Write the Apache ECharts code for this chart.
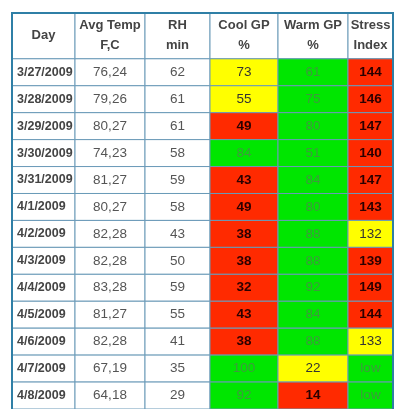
<!DOCTYPE html>
<html><head><meta charset="utf-8">
<script src="https://cdn.jsdelivr.net/npm/echarts@6/dist/echarts.min.js"></script>
<style>html,body{margin:0;padding:0;background:#fff}#c{width:400px;height:409px}</style>
</head><body><div id="c"></div>
<script>
const headers = ["Day\n", "Avg Temp\nF,C", "RH\nmin", "Cool GP\n%", "Warm GP\n%", "Stress\nIndex"];
const days = ["3/27/2009","3/28/2009","3/29/2009","3/30/2009","3/31/2009","4/1/2009","4/2/2009","4/3/2009","4/4/2009","4/5/2009","4/6/2009","4/7/2009","4/8/2009"];
const temps = ["76,24","79,26","80,27","74,23","81,27","80,27","82,28","82,28","83,28","81,27","82,28","67,19","64,18"];
const rh = [62,61,61,58,59,58,43,50,59,55,41,35,29];
const cool = [73,55,49,84,43,49,38,38,32,43,38,100,92];
const coolLevel = ["Y","Y","R","G","R","R","R","R","R","R","R","G","G"];
const warm = [61,75,80,51,84,80,88,88,92,84,88,22,14];
const warmLevel = ["G","G","G","G","G","G","G","G","G","G","G","Y","R"];
const stress = ["144","146","147","140","147","143","132","139","149","144","133","low","low"];
const stressLevel = ["R","R","R","R","R","R","Y","R","R","R","Y","G","G"];

// layout (styling only)
const colEdges = [0, 63, 133, 198, 266, 336, 381];
const headerH = 1.7;
const fills = {R:"#ff2a00", Y:"#ffff00", G:"#00e600", W:"#ffffff"};
const textCol = {R:"#2a0000", Y:"#333333", G:"#3d9a3d", W:"#555555"};

const cells = [];
headers.forEach((h,c)=>cells.push([c, -1, h, "H"]));
days.forEach((d,r)=>{
  cells.push([0,r,d,"D"]);
  cells.push([1,r,temps[r],"W"]);
  cells.push([2,r,String(rh[r]),"W"]);
  cells.push([3,r,String(cool[r]),coolLevel[r]]);
  cells.push([4,r,String(warm[r]),warmLevel[r]]);
  cells.push([5,r,stress[r],stressLevel[r]]);
});

const chart = echarts.init(document.getElementById('c'), null, {renderer:'canvas'});
chart.setOption({
  animation:false,
  grid:{left:12, right:7, top:13, height:27.1*(headerH+13)},
  xAxis:{type:'value', min:0, max:381, show:false},
  yAxis:{type:'value', min:0, max:headerH+13, inverse:true, show:false},
  series:[{
    type:'custom',
    data:cells,
    clip:false,
    renderItem:(params, api)=>{
      const c = api.value(0), r = api.value(1);
      const kind = cells[params.dataIndex][3];
      const text = cells[params.dataIndex][2];
      const y0 = r<0 ? 0 : headerH + r, y1 = r<0 ? headerH : headerH + r + 1;
      const p0 = api.coord([colEdges[c], y0]);
      const p1 = api.coord([colEdges[c+1], y1]);
      const lvl = (kind==="H"||kind==="D") ? "W" : kind;
      let color = textCol[lvl], weight = 'normal', size = 13.5;
      let tx = (p0[0]+p1[0])/2, align = 'center';
      if (kind==="H"){color="#444"; weight='bold'; size=13;}
      if (kind==="D"){color="#444"; weight='bold'; size=12.5; tx = p0[0]+5; align='left';}
      if (kind==="R"){weight='bold';}
      return {type:'group', children:[
        {type:'rect', shape:{x:p0[0], y:p0[1], width:p1[0]-p0[0], height:p1[1]-p0[1]},
         style:{fill:fills[lvl], stroke:"#6a9ab8", lineWidth:1}},
        {type:'text', style:{text: kind==="H" && c===0 ? "Day" : text, x:tx, y:(p0[1]+p1[1])/2,
          align:align, verticalAlign:'middle', fill:color, fontWeight:weight, fontSize:size,
          lineHeight:20, fontFamily:'Arial, Liberation Sans, sans-serif'}}
      ]};
    }
  }],
  graphic:[{type:'rect', shape:{x:12, y:13, width:381, height:400}, style:{fill:null, stroke:"#2f7fa6", lineWidth:2}, z:100}]
});
</script></body></html>
